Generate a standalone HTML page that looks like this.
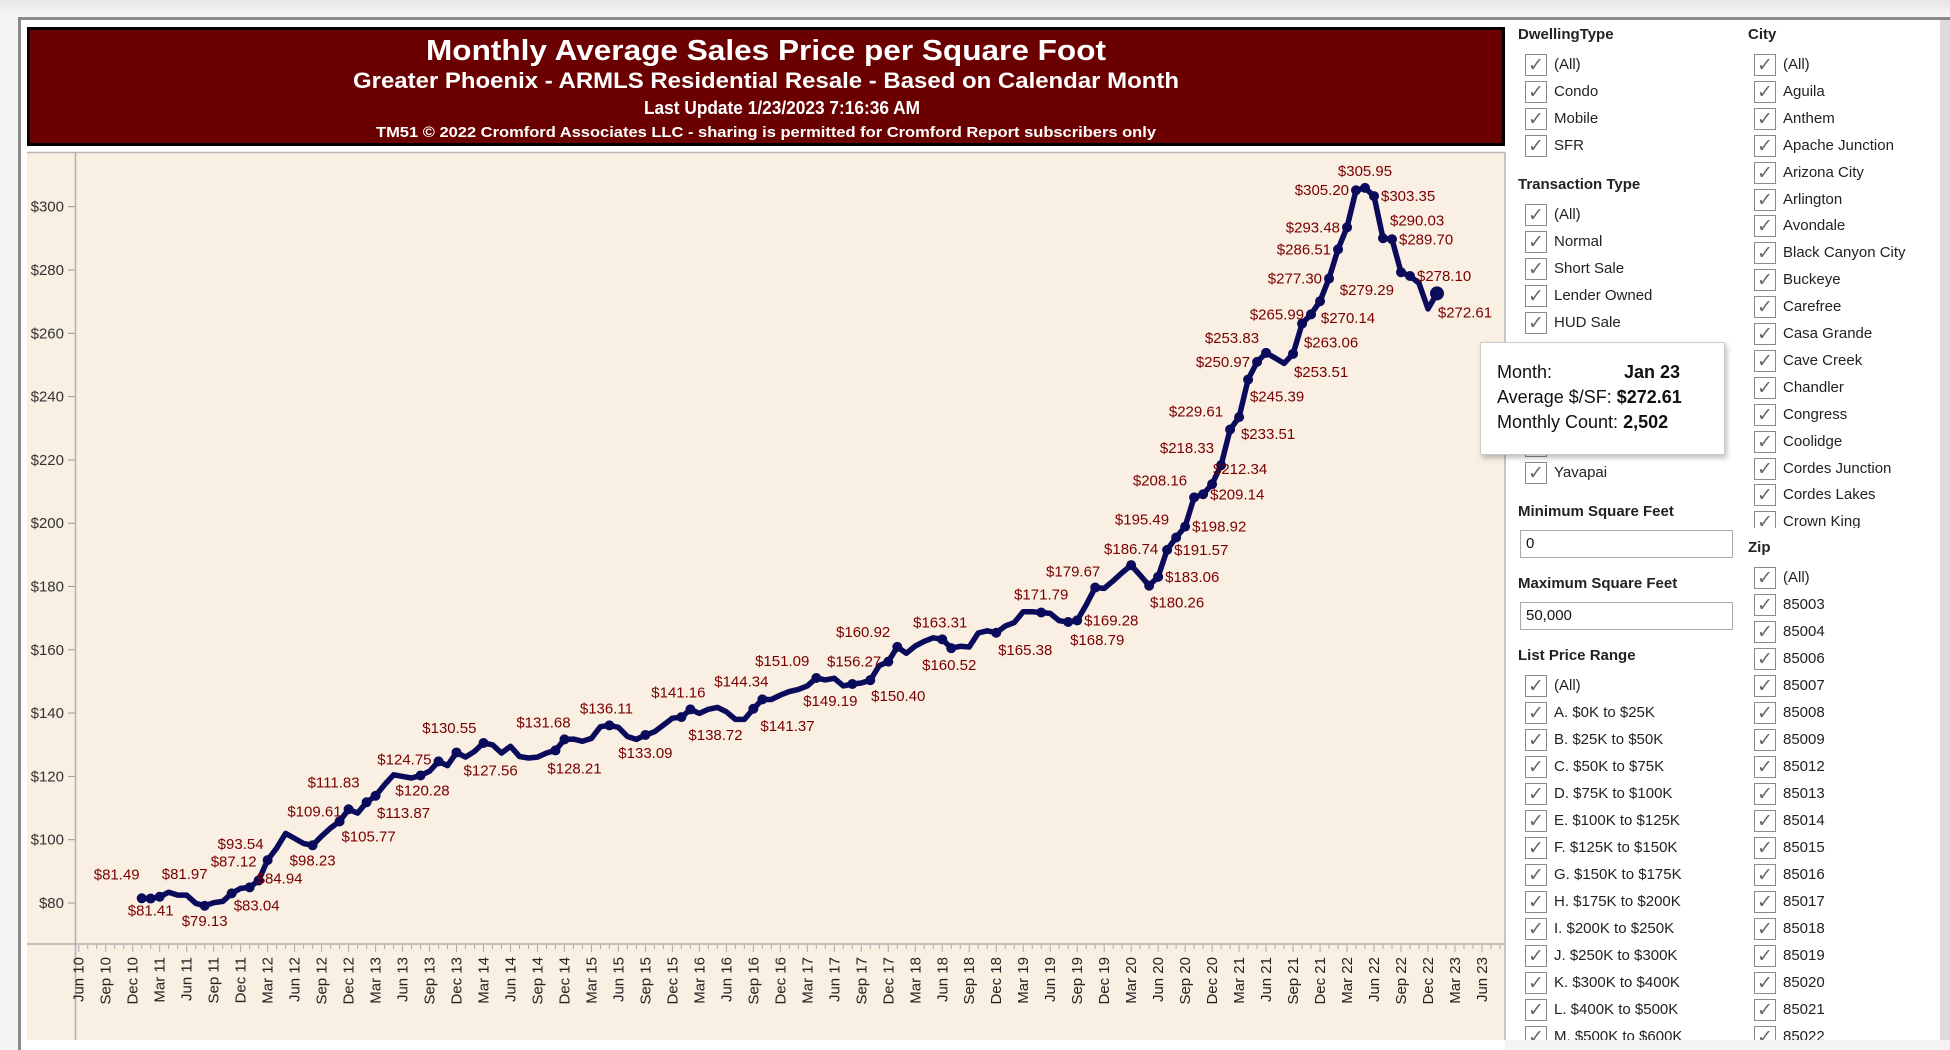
<!DOCTYPE html>
<html><head><meta charset="utf-8">
<style>
html,body{margin:0;padding:0;width:1950px;height:1050px;overflow:hidden;background:#f3f3f3;font-family:"Liberation Sans",sans-serif;}
#top{position:absolute;left:0;top:0;width:1950px;height:17px;background:linear-gradient(#e6e6e6,#f6f6f6);}
#frame{position:absolute;left:18px;top:17px;width:1932px;height:1033px;border-left:3px solid #8a8a8a;border-top:3px solid #8a8a8a;background:#fff;box-sizing:border-box;}
#chart{position:absolute;left:0;top:0;}
#side{position:absolute;left:1510px;top:20px;width:430px;height:1020px;background:#fff;overflow:hidden;}
#scroll{position:absolute;left:1940px;top:20px;width:10px;height:1020px;background:#dcdcdc;}
#bottom{position:absolute;left:1505px;top:1040px;width:445px;height:10px;background:#f3f3f3;}
.hdr{position:absolute;font-weight:bold;font-size:15px;color:#222;line-height:18px;}
.clip{position:absolute;overflow:hidden;}
.row{position:absolute;height:24px;font-size:15px;color:#222;line-height:22px;white-space:nowrap;}
.cb{position:absolute;left:0;top:0;width:20px;height:20px;border:1px solid #8a8a8a;background:#fff;color:#666;font-size:19px;line-height:21px;text-align:center;font-family:"DejaVu Sans",sans-serif;}
.lbl{position:absolute;left:29px;top:0;}
.inp{position:absolute;border:1px solid #aaa;background:#fff;font-size:15px;line-height:26px;padding-left:5px;box-sizing:border-box;color:#111;}
#tip{position:absolute;left:1480px;top:342px;width:243px;height:111px;background:#fff;border:1px solid #ccc;box-shadow:2px 3px 5px rgba(0,0,0,0.25);font-size:18px;color:#111;}
#tip div{position:absolute;left:16px;white-space:nowrap;}
</style></head>
<body>
<div id="top"></div>
<div id="frame"></div>
<svg id="chart" width="1950" height="1050" xmlns="http://www.w3.org/2000/svg">
  <rect x="21" y="20" width="1489" height="1030" fill="#fff"/>
  <rect x="27" y="152" width="1478" height="888" fill="#f9efe2"/>
  <line x1="27" y1="152.5" x2="1505" y2="152.5" stroke="#b5b5b5" stroke-width="1.5"/>
  <line x1="1505" y1="152" x2="1505" y2="1040" stroke="#b5b5b5" stroke-width="1.5"/>
  <rect x="28.5" y="28.5" width="1475" height="116" fill="#6b0000" stroke="#000" stroke-width="3"/>
  <g fill="#fff" font-family="Liberation Sans, sans-serif" font-weight="bold" text-anchor="middle">
    <text x="766" y="60" font-size="29" textLength="680" lengthAdjust="spacingAndGlyphs">Monthly Average Sales Price per Square Foot</text>
    <text x="766" y="88" font-size="22" textLength="826" lengthAdjust="spacingAndGlyphs">Greater Phoenix - ARMLS Residential Resale - Based on Calendar Month</text>
    <text x="782" y="114" font-size="18" textLength="276" lengthAdjust="spacingAndGlyphs">Last Update 1/23/2023 7:16:36 AM</text>
    <text x="766" y="137" font-size="15" textLength="780" lengthAdjust="spacingAndGlyphs">TM51 © 2022 Cromford Associates LLC - sharing is permitted for Cromford Report subscribers only</text>
  </g>
  <line x1="75.5" y1="152" x2="75.5" y2="1040" stroke="#b0b0b0" stroke-width="1.5"/>
  <line x1="27" y1="944" x2="1505" y2="944" stroke="#b0b0b0" stroke-width="1.5"/>
  <g id="yaxis"></g>
  <g id="xaxis"></g>
  <g id="series"></g>
  <g id="labels"></g>
</svg>
<div id="side"></div>
<div id="scroll"></div>
<div id="bottom"></div>
<div id="tip">
  <div style="top:19px">Month:</div><div style="top:19px;left:143px;font-weight:bold">Jan 23</div>
  <div style="top:44px">Average $/SF: <b>$272.61</b></div>
  <div style="top:69px">Monthly Count: <b>2,502</b></div>
</div>
<script>
const months = ["Jan","Feb","Mar","Apr","May","Jun","Jul","Aug","Sep","Oct","Nov","Dec"];
const startYear = 2011;
const values = [
81.49,81.41,81.97,83.4,82.5,82.5,79.9,79.13,80.1,80.5,83.04,84.6,84.94,
87.12,93.54,97.3,102.0,100.4,98.8,98.23,101.1,103.7,105.77,109.61,108.4,
111.83,113.87,117.4,120.5,120.0,119.5,120.28,121.6,124.75,123.4,
127.56,126.1,127.9,130.55,130.0,127.4,129.5,126.3,125.8,126.1,127.4,128.21,131.68,131.8,131.1,
132.0,135.7,136.11,135.5,132.6,131.7,133.09,134.1,136.2,138.4,
138.72,141.16,139.9,141.2,141.8,140.4,138.0,138.0,141.37,144.34,
144.3,145.7,146.8,147.5,148.6,151.09,150.5,151.0,148.6,149.19,
149.5,150.40,155.0,156.27,160.92,158.9,161.2,162.7,163.8,163.31,
160.52,161.1,160.9,165.3,166.0,165.38,167.5,168.6,172.0,172.0,
171.79,171.5,169.2,168.79,169.28,174.2,179.67,179.4,181.8,184.4,
186.74,183.6,180.26,183.06,191.57,195.49,198.92,208.16,209.14,212.34,
218.33,229.61,233.51,245.39,250.97,253.83,252.2,250.5,253.51,263.06,
265.99,270.14,277.30,286.51,293.48,305.20,305.95,303.35,290.03,289.70,
279.29,278.10,275.8,267.7,272.61];
const labelIdx = [0,1,2,7,10,12,13,14,19,22,23,25,26,31,33,35,38,46,47,52,56,60,61,68,69,75,79,81,83,84,89,90,95,100,103,104,106,110,112,113,114,115,116,117,118,119,120,121,122,123,124,125,128,129,130,131,132,133,134,135,136,137,138,139,140,141,144];
const yTicks = [80,100,120,140,160,180,200,220,240,260,280,300];
const xTickStart = -7, xTickEnd = 149;
// label offsets (styling only)
const labelOff = {0:[-25,-24],1:[0,12],2:[25,-23],7:[0,15],10:[25,12],12:[31,-9],13:[-25,-19],14:[-27,-16],19:[0,15],22:[29,15],23:[-39,2],25:[-31,-20],26:[28,17],31:[2,15],33:[-39,-2],35:[30,18],38:[-30,-15],46:[19,18],47:[-21,-17],52:[-3,-17],56:[0,18],60:[30,18],61:[-12,-17],68:[30,17],69:[-21,-18],75:[-30,-17],79:[-22,17],81:[28,16],83:[-38,0],84:[-31,-15],89:[-2,-17],90:[-2,17],95:[29,17],100:[0,-18],103:[29,18],104:[36,0],106:[-22,-16],110:[0,-16],112:[28,17],113:[36,0],114:[37,0],115:[-31,-18],116:[37,0],117:[-31,-17],118:[36,0],119:[28,-15],120:[-32,-17],121:[-30,-18],122:[29,17],123:[29,17],124:[-38,0],125:[-31,-15],128:[28,18],129:[29,19],130:[-39,0],131:[28,17],132:[-39,0],133:[-39,0],134:[-38,0],135:[-38,0],136:[0,-17],137:[37,0],138:[30,-18],139:[37,0],140:[-30,18],141:[37,0],144:[28,19]};

const NS = "http://www.w3.org/2000/svg";
function xScale(i){ return 141.7 + 8.995*i; }
function yScale(v){ return 903 - (v-80)*3.165; }
function mk(tag, attrs, parent){ const e=document.createElementNS(NS,tag); for(const k in attrs) e.setAttribute(k,attrs[k]); parent.appendChild(e); return e; }

const yg = document.getElementById('yaxis');
yTicks.forEach(v=>{
  const y=yScale(v);
  const t=mk('line',{x1:68,x2:75,y1:y,y2:y,stroke:'#999','stroke-width':1},yg);
  
  
  const l=mk('text',{x:64,y:y+5,'text-anchor':'end','font-size':15,fill:'#333','font-family':'Liberation Sans, sans-serif'},yg);
  l.textContent='$'+v;
  
  
});

const xg = document.getElementById('xaxis');
for(let i=xTickStart;i<=xTickEnd+2;i++){
  const x=xScale(i);
  const m=((i%12)+12)%12;
  const t=mk('line',{x1:x,x2:x,y1:945,y2:(m%3===2)?952:949,stroke:'#aaa','stroke-width':1},xg);
  
  
}
for(let i=xTickStart;i<=xTickEnd;i+=3){
  const m=((i%12)+12)%12;
  const yr=startYear+Math.floor(i/12);
  const x=xScale(i);
  const l=mk('text',{x:0,y:0,transform:'translate('+(x+5)+',957) rotate(-90)','text-anchor':'end','font-size':15,fill:'#222','font-family':'Liberation Sans, sans-serif'},xg);
  l.textContent=months[m]+' '+String(yr%100).padStart(2,'0');
  
  
}

const sg=document.getElementById('series');
const pts=values.map((v,i)=>xScale(i).toFixed(1)+','+yScale(v).toFixed(1)).join(' ');
const pl=mk('polyline',{points:pts,fill:'none',stroke:'#0b0b5c','stroke-width':5.5,'stroke-linejoin':'round','stroke-linecap':'round'},sg);


const lg=document.getElementById('labels');
labelIdx.forEach(i=>{
  const x=xScale(i), y=yScale(values[i]);
  const c=mk('circle',{cx:x,cy:y,r:(i===values.length-1)?7:5,fill:'#0b0b5c'},sg);
  
  
  const o=labelOff[i]||[0,-16];
  let anchor='middle', dx=o[0];
  if(o[0]<=-30){anchor='end'; dx=-7;}
  else if(o[0]>=30){anchor='start'; dx=7;}
  const t=mk('text',{x:x+dx,y:y+o[1]+5,'text-anchor':anchor,'font-size':15,fill:'#7a0000','font-family':'Liberation Sans, sans-serif'},lg);
  t.textContent='$'+values[i].toFixed(2);
  
  
});

// sidebar
const side=document.getElementById('side');
const OX=1510, OY=20;
function clipBox(top,bottom){
  const c=document.createElement('div'); c.className='clip';
  c.style.left='0px'; c.style.top=(top-OY)+'px'; c.style.width='430px'; c.style.height=(bottom-top)+'px';
  
  
  side.appendChild(c);
  c._top=top;
  return c;
}
function hdr(text,x,y){
  const d=document.createElement('div'); d.className='hdr'; d.textContent=text;
  d.style.left=(x-OX)+'px'; d.style.top=(y-OY-9)+'px';
  
  
  side.appendChild(d);
}
function row(text,x,y,parent){
  const p=parent||side, top=parent?parent._top:OY;
  const d=document.createElement('div'); d.className='row';
  d.style.left=(x-OX)+'px'; d.style.top=(y-top-11)+'px';
  d.innerHTML='<span class="cb">✓</span><span class="lbl"></span>';
  d.lastChild.textContent=text;
  
  
  p.appendChild(d);
}
function inp(val,y1,y2){
  const d=document.createElement('div'); d.className='inp'; d.textContent=val;
  d.style.left=(1520-OX)+'px'; d.style.top=(y1-OY)+'px'; d.style.width='213px'; d.style.height=(y2-y1)+'px';
  
  
  side.appendChild(d);
}
const LX=1525, RX=1754;
hdr('DwellingType',1518,35);
['(All)','Condo','Mobile','SFR'].forEach((t,k)=>row(t,LX,65+26.9*k));
hdr('Transaction Type',1518,185);
['(All)','Normal','Short Sale','Lender Owned','HUD Sale'].forEach((t,k)=>row(t,LX,215+26.9*k));
row('Maricopa',LX,446);
row('Yavapai',LX,473);
hdr('Minimum Square Feet',1518,512);
inp('0',530,558);
hdr('Maximum Square Feet',1518,584);
inp('50,000',602,630);
hdr('List Price Range',1518,656);
const lp=clipBox(670,1040);
['(All)','A. $0K to $25K','B. $25K to $50K','C. $50K to $75K','D. $75K to $100K','E. $100K to $125K','F. $125K to $150K','G. $150K to $175K','H. $175K to $200K','I. $200K to $250K','J. $250K to $300K','K. $300K to $400K','L. $400K to $500K','M. $500K to $600K'].forEach((t,k)=>row(t,LX,686+27*k,lp));
hdr('City',1748,35);
const cl=clipBox(50,528);
['(All)','Aguila','Anthem','Apache Junction','Arizona City','Arlington','Avondale','Black Canyon City','Buckeye','Carefree','Casa Grande','Cave Creek','Chandler','Congress','Coolidge','Cordes Junction','Cordes Lakes','Crown King'].forEach((t,k)=>row(t,RX,65+26.9*k,cl));
hdr('Zip',1748,548);
const zp=clipBox(562,1040);
['(All)','85003','85004','85006','85007','85008','85009','85012','85013','85014','85015','85016','85017','85018','85019','85020','85021','85022'].forEach((t,k)=>row(t,RX,578+27*k,zp));
</script>
</body></html>
